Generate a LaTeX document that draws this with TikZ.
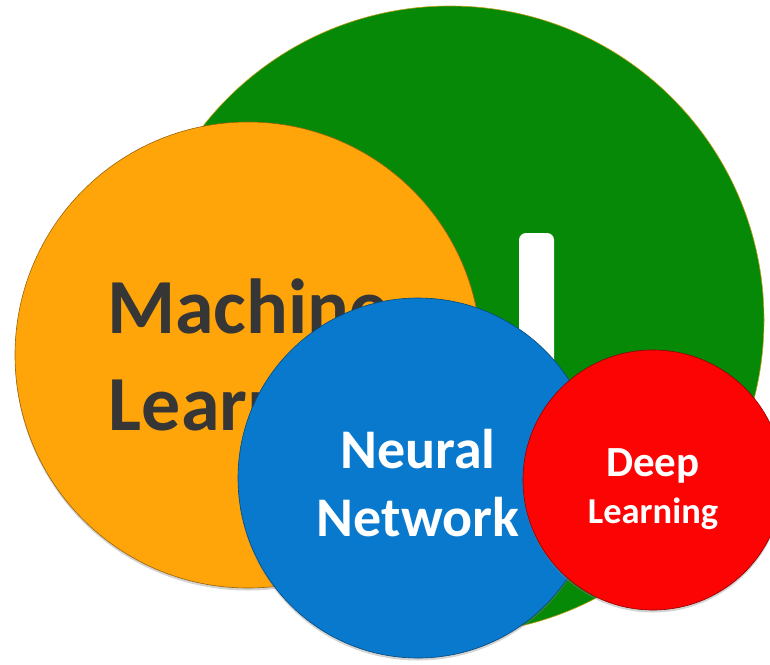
\documentclass[tikz,border=0pt]{standalone}
\usepackage{fontspec}
\setmainfont{Carlito}
\usetikzlibrary{shadows}

\definecolor{aigreen}{RGB}{6,137,6}
\definecolor{aiedge}{RGB}{190,160,20}
\definecolor{mlorange}{RGB}{255,165,10}
\definecolor{nnblue}{RGB}{8,121,205}
\definecolor{dlred}{RGB}{253,4,4}
\definecolor{mltext}{RGB}{54,54,54}

\begin{document}
\begin{tikzpicture}[
		x=1pt, y=-1pt,
		disc/.style={draw, circle, inner sep=0pt, line width=0.6pt},
		shade/.style={drop shadow={opacity=0.35, shadow xshift=0pt, shadow yshift=-2.5pt}},
		caption/.style={align=center, inner sep=0pt, font=\bfseries},
		bar/.style={fill=white, rectangle, rounded corners=7pt, inner sep=0pt}
		]
		\useasboundingbox (0,0) rectangle (770,664);
		% Artificial Intelligence
		\node[disc, draw=aiedge, fill=aigreen, minimum size=628pt] (ai) at (450,320) {};
		\node[bar, minimum width=35pt, minimum height=190pt] (aibar) at (536.5,328) {};
		% Machine Learning
		\node[disc, shade, draw=mlorange!60!black, fill=mlorange, minimum size=466pt] (ml) at (248,355) {};
		\node[caption, text=mltext, font=\bfseries\fontsize{78}{97}\selectfont] (mltitle)
			at ([yshift=-6pt]ml.center) {Machine\\Learning};
		% Neural Network
		\node[disc, shade, draw=nnblue!60!black, fill=nnblue, minimum size=360pt] (nn) at (418,478) {};
		\node[caption, text=white, font=\bfseries\fontsize{56}{68}\selectfont] (nntitle)
			at ([yshift=-5pt]nn.center) {Neural\\Network};
		% Deep Learning
		\node[disc, shade, draw=dlred!55!black, fill=dlred, minimum size=260pt] (dl) at (653,480) {};
		\node[caption, text=white, font=\bfseries\fontsize{36.5}{47}\selectfont] (dltitle)
			at ([yshift=-9pt]dl.center) {{\fontsize{43}{47}\selectfont Deep}\\Learning};
	\end{tikzpicture}
\end{document}
